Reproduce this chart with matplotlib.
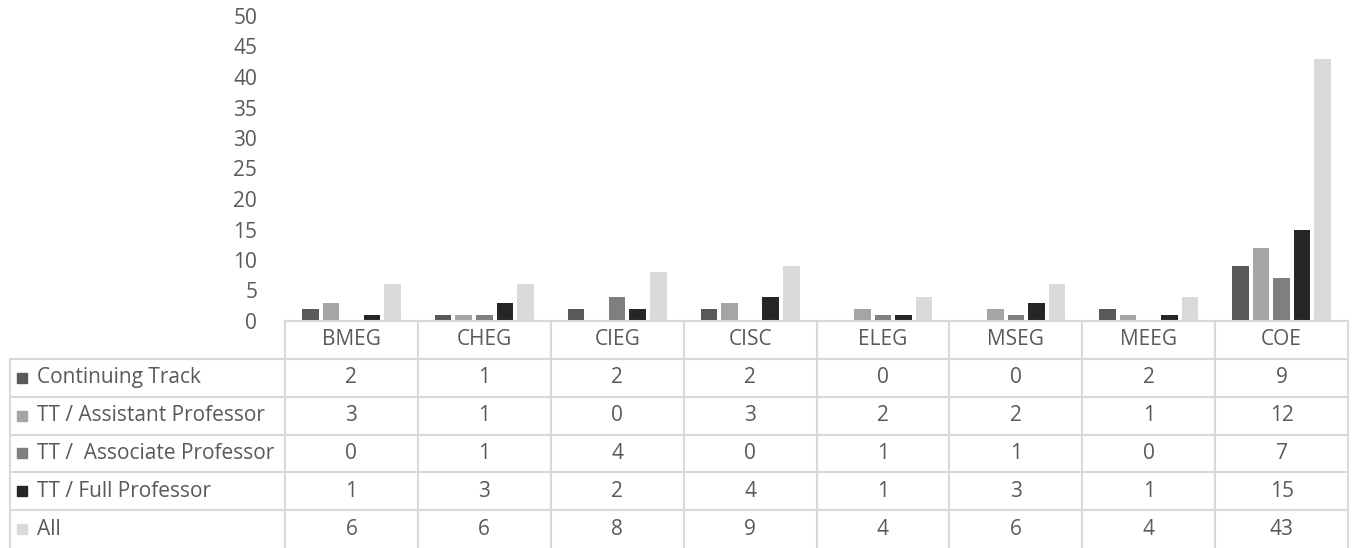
import numpy as np
import matplotlib.pyplot as plt

# 数据
departments = ["BMEG", "CHEG", "CIEG", "CISC", "ELEG", "MSEG", "MEEG", "COE"]
series_names = ["Continuing Track", "TT / Assistant Professor", "TT /  Associate Professor",
                "TT / Full Professor", "All"]
continuing = [2, 1, 2, 2, 0, 0, 2, 9]
assistant = [3, 1, 0, 3, 2, 2, 1, 12]
associate = [0, 1, 4, 0, 1, 1, 0, 7]
full_prof = [1, 3, 2, 4, 1, 3, 1, 15]
all_fac = [6, 6, 8, 9, 4, 6, 4, 43]
colors = ["#595959", "#a5a5a5", "#7f7f7f", "#262626", "#d9d9d9"]

values = [continuing, assistant, associate, full_prof, all_fac]
txt = "#595959"
grid = "#d9d9d9"
fs = 15
plt.rcParams['font.family'] = ['Open Sans', 'DejaVu Sans']

W, H = 1355, 548
fig = plt.figure(figsize=(W / 100, H / 100), dpi=100)

# 柱状图区域
x0, x1, ytop, y0 = 285, 1348, 16, 321
ax = fig.add_axes([x0 / W, 1 - y0 / H, (x1 - x0) / W, (y0 - ytop) / H])
x = np.arange(len(departments))
step = 0.155
width = 0.125
for i, (vals, c) in enumerate(zip(values, colors)):
    ax.bar(x + (i - 2) * step, vals, width=width, color=c, edgecolor="none")
ax.set_xlim(-0.5, len(departments) - 0.5)
ax.set_ylim(0, 50)
ax.set_yticks(range(0, 51, 5))
ax.set_xticks([])
ax.tick_params(axis='y', length=0, pad=20, labelsize=fs, labelcolor=txt)
for s in ["top", "right", "left"]:
    ax.spines[s].set_visible(False)
ax.spines["bottom"].set_color(grid)
ax.spines["bottom"].set_linewidth(1.5)

# 数据表
tx0 = 10
ncat = len(departments)
unit = (x1 - x0) / ncat
left_units = (x0 - tx0) / unit
tab = fig.add_axes([tx0 / W, 0, (x1 - tx0) / W, (H - y0) / H])
tab.set_xlim(-0.5 - left_units, ncat - 0.5)
nrows = len(series_names) + 1
tab.set_ylim(nrows, 0)
tab.axis("off")
lw = 1.5
# 竖线
for b in np.arange(ncat + 1) - 0.5:
    tab.plot([b, b], [0, nrows], color=grid, lw=lw, clip_on=False)
tab.plot([-0.5 - left_units] * 2, [1, nrows], color=grid, lw=lw, clip_on=False)
# 横线
for r in range(1, nrows):
    tab.plot([-0.5 - left_units, ncat - 0.5], [r, r], color=grid, lw=lw, clip_on=False)
# 表头
for j, d in enumerate(departments):
    tab.text(j, 0.5, d, ha="center", va="center", fontsize=fs, color=txt)
# 行
for r, (name, vals, c) in enumerate(zip(series_names, values, colors)):
    yy = r + 1.5
    tab.plot(-0.5 - left_units + 0.09, yy, marker="s", ms=7, color=c, clip_on=False)
    tab.text(-0.5 - left_units + 0.2, yy, name, ha="left", va="center", fontsize=fs, color=txt)
    for j, v in enumerate(vals):
        tab.text(j, yy, str(v), ha="center", va="center", fontsize=fs, color=txt)

fig.savefig("out.png", dpi=100)
